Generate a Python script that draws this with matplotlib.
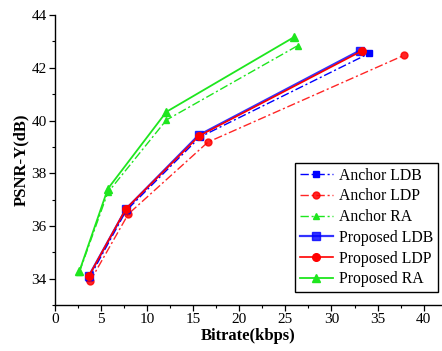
import matplotlib
matplotlib.use("Agg")
import matplotlib.pyplot as plt
from matplotlib.ticker import MultipleLocator

plt.rcParams['font.family'] = ['Liberation Serif', 'DejaVu Serif']

# Rate-distortion points (bitrate in kbps, PSNR-Y in dB)
anchor_ldb_rate = [3.70, 7.70, 15.70, 34.10]
anchor_ldb_psnr = [34.03, 36.58, 39.37, 42.55]
anchor_ldp_rate = [3.78, 7.93, 16.58, 37.85]
anchor_ldp_psnr = [33.90, 36.45, 39.18, 42.47]
anchor_ra_rate = [2.62, 5.71, 12.07, 26.33]
anchor_ra_psnr = [34.25, 37.27, 40.02, 42.84]
proposed_ldb_rate = [3.64, 7.67, 15.56, 33.05]
proposed_ldb_psnr = [34.10, 36.64, 39.44, 42.65]
proposed_ldp_rate = [3.64, 7.67, 15.64, 33.35]
proposed_ldp_psnr = [34.09, 36.65, 39.42, 42.65]
proposed_ra_rate = [2.62, 5.71, 12.07, 25.96]
proposed_ra_psnr = [34.28, 37.41, 40.33, 43.17]

x_ticks = [0, 5, 10, 15, 20, 25, 30, 35, 40]
y_ticks = [34, 36, 38, 40, 42, 44]

blue = '#0000ff'
red = '#ff0000'
green = '#1ee61e'

fig = plt.figure(figsize=(4.42, 3.51), dpi=100)
ax = fig.add_axes([0.125, 0.131, 0.875, 0.826])

dashdot = (0, (6, 2, 1.5, 2))
ax.plot(anchor_ldb_rate, anchor_ldb_psnr, color=blue, ls=dashdot, lw=1.0,
        marker='s', ms=5, label='Anchor LDB')
ax.plot(anchor_ldp_rate, anchor_ldp_psnr, color=red, ls=dashdot, lw=1.0,
        marker='o', ms=5, label='Anchor LDP', alpha=0.85)
ax.plot(anchor_ra_rate, anchor_ra_psnr, color=green, ls=dashdot, lw=1.0,
        marker='^', ms=5, label='Anchor RA')
ax.plot(proposed_ldb_rate, proposed_ldb_psnr, color=blue, ls='-', lw=1.6,
        marker='s', ms=5.5, label='Proposed LDB', alpha=0.8)
ax.plot(proposed_ldp_rate, proposed_ldp_psnr, color=red, ls='-', lw=1.2,
        marker='o', ms=5.5, label='Proposed LDP')
ax.plot(proposed_ra_rate, proposed_ra_psnr, color=green, ls='-', lw=1.3,
        marker='^', ms=5.5, label='Proposed RA')

ax.set_xlim(0, 42)
ax.set_ylim(33, 44)
ax.set_xticks(x_ticks)
ax.set_yticks(y_ticks)
ax.xaxis.set_minor_locator(MultipleLocator(2.5))
ax.yaxis.set_minor_locator(MultipleLocator(1))
ax.tick_params(which='major', direction='out', length=4, width=0.9, labelsize=11, pad=2)
ax.tick_params(which='minor', direction='out', length=2.5, width=0.8)
for side in ('top', 'right'):
    ax.spines[side].set_visible(False)
for side in ('left', 'bottom'):
    ax.spines[side].set_linewidth(1.0)

ax.set_xlabel('Bitrate(kbps)', fontsize=12, fontweight='bold', labelpad=1)
ax.set_ylabel('PSNR-Y(dB)', fontsize=12, fontweight='bold', labelpad=2)

leg = ax.legend(loc='lower right', bbox_to_anchor=(0.99, 0.045), fontsize=11.3,
                frameon=True, fancybox=False, edgecolor='black', framealpha=1,
                handlelength=2.1, handletextpad=0.4, borderpad=0.3,
                labelspacing=0.3, borderaxespad=0)
leg.get_frame().set_linewidth(1.0)

fig.savefig('out.png', dpi=100)
